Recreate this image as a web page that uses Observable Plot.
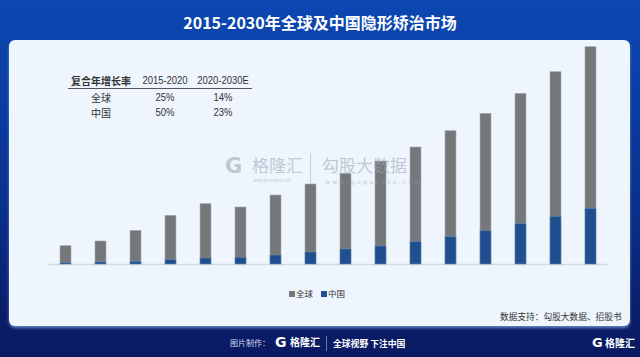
<!DOCTYPE html>
<html>
<head>
<meta charset="utf-8">
<script src="https://cdn.jsdelivr.net/npm/d3@7"></script>
<script src="https://cdn.jsdelivr.net/npm/@observablehq/plot@0.6"></script>
<style>
  html, body { margin: 0; padding: 0; }
  body {
    width: 640px; height: 357px; overflow: hidden; position: relative;
    background: linear-gradient(to bottom, #0c48b2 0%, #0a3ea4 25%, #0a2f8a 60%, #0a1d6a 88%, #0a1a62 100%);
    font-family: "Noto Sans CJK SC", "Noto Sans", sans-serif;
  }
  .abs { position: absolute; white-space: nowrap; }
  #title { left: 0; width: 640px; top: 10px; text-align: center; color: #fff; font-size: 16px; font-weight: 700; line-height: 24px; }
  #panel { left: 9px; top: 40px; width: 621px; height: 286px; background: #eef5fd; border-radius: 6px;
           box-shadow: 0 2px 3px rgba(140,180,230,0.7); }
  #chart { left: 9px; top: 40px; }
  .cell { position: absolute; transform: translate(-50%, -50%); color: #333; white-space: nowrap; }
  .num { font-family: "Liberation Sans", Arial, sans-serif; font-size: 11px; transform: translate(-50%, -50%) scaleX(0.86); }
  .cjk { font-size: 10px; }
  #rule { left: 68px; top: 87.5px; width: 184px; height: 1.4px; background: #555; }
  .wm { color: rgba(150,160,172,0.55); }
</style>
</head>
<body>
<div id="title" class="abs">2015-2030年全球及中国隐形矫治市场</div>
<div id="panel" class="abs"></div>
<div id="chart" class="abs"></div>
<div id="table"></div>
<div id="rule" class="abs"></div>
<div id="legend"></div>
<div id="wm"></div>
<div class="abs" style="left:500px; top:310px; font-size:8.7px; color:#333; line-height:14px;">数据支持：勾股大数据、招股书</div>
<div id="footer"></div>
<script>
const years = ["2015","2016","2017","2018","2019","2020","2021","2022","2023","2024","2025","2026","2027","2028","2029","2030"];
const globalMarket = [18.3, 23, 33.7, 48.7, 60.3, 57, 69, 80, 90.7, 103, 117, 133.3, 150.7, 170.7, 192.3, 217.3];
const chinaMarket = [1.2, 2, 2.7, 4.3, 6, 6.7, 9, 12, 15, 18, 22.3, 27.3, 33.3, 40.3, 47.7, 55.7];
const seriesNames = ["全球", "中国"];
const seriesColors = ["#75787b", "#1f4f8e"];
const cagrHeader = ["复合年增长率", "2015-2020", "2020-2030E"];
const cagrRows = [["全球", "25%", "14%"], ["中国", "50%", "23%"]];

const data = years.map((y, i) => ({year: y, global: globalMarket[i], china: chinaMarket[i]}));

const chart = Plot.plot({
  width: 622, height: 240,
  marginLeft: 38.5, marginRight: 22.5, marginTop: 4, marginBottom: 16,
  style: {background: "transparent"},
  x: {domain: years, paddingInner: 0.686, paddingOuter: 0.343, axis: null},
  y: {domain: [0, 220], axis: null},
  marks: [
    Plot.ruleY([0], {stroke: "#d3dae3", strokeWidth: 1.5}),
    Plot.barY(data, {x: "year", y: "global", fill: seriesColors[0], stroke: "#a6abb0", strokeWidth: 0.6}),
    Plot.barY(data, {x: "year", y: "china", fill: seriesColors[1], stroke: "#6f8fb8", strokeWidth: 0.5})
  ]
});
document.getElementById("chart").appendChild(chart);

// CAGR table
const table = document.getElementById("table");
const colX = [101, 165, 222.5];
const rowY = [80, 96.7, 112.3];
function cell(txt, x, y, cls, extra) {
  const d = document.createElement("div");
  d.className = "cell " + cls;
  d.style.left = x + "px"; d.style.top = y + "px";
  if (extra) Object.assign(d.style, extra);
  d.textContent = txt;
  table.appendChild(d);
}
cagrHeader.forEach((t, j) => cell(t, colX[j], rowY[0], j === 0 ? "cjk" : "num", j === 0 ? {fontWeight: 700} : null));
cagrRows.forEach((row, i) => row.forEach((t, j) => cell(t, colX[j], rowY[i + 1], j === 0 ? "cjk" : "num")));

// legend
const legend = document.getElementById("legend");
const legX = [289, 321];
seriesNames.forEach((name, i) => {
  const d = document.createElement("div");
  d.className = "abs";
  Object.assign(d.style, {left: legX[i] + "px", top: "287px", fontSize: "8.5px", color: "#333", lineHeight: "12px"});
  d.innerHTML = `<span style="display:inline-block;width:6px;height:6px;background:${seriesColors[i]};margin-right:1px;vertical-align:0px"></span>${name}`;
  legend.appendChild(d);
});

// watermark
document.getElementById("wm").innerHTML = `
  <div class="abs wm" style="left:225px;top:155px;font:900 21px 'DejaVu Sans',sans-serif;line-height:22px;">G</div>
  <div class="abs wm" style="left:252px;top:154px;font-size:17px;line-height:21px;">格隆汇</div>
  <div class="abs wm" style="left:253px;top:178px;font-size:4px;line-height:5px;">www.gelonghui.com</div>
  <div class="abs" style="left:310px;top:153px;width:1px;height:32px;background:rgba(150,160,172,0.45);"></div>
  <div class="abs wm" style="left:322px;top:154px;font-size:17px;line-height:21px;">勾股大数据</div>
  <div class="abs wm" style="left:325px;top:178px;font-size:6px;letter-spacing:2.4px;line-height:8px;font-family:'DejaVu Sans',sans-serif;">www.gogudata.com</div>
`;

// footer
document.getElementById("footer").innerHTML = `
  <div class="abs" style="left:230px;top:336px;font-size:8px;color:#d6dcef;line-height:13px;">图片制作：</div>
  <div class="abs" style="left:275px;top:334px;font:900 14px 'DejaVu Sans',sans-serif;color:#fff;line-height:16px;">G</div>
  <div class="abs" style="left:290px;top:335px;font-size:10px;font-weight:700;color:#fff;line-height:13px;">格隆汇</div>
  <div class="abs" style="left:326px;top:336px;width:1px;height:15px;background:#6b7bb0;"></div>
  <div class="abs" style="left:333px;top:337px;font-size:8.8px;font-weight:700;color:#fff;line-height:13px;">全球视野 下注中国</div>
  <div class="abs" style="left:592px;top:335px;font:900 13px 'DejaVu Sans',sans-serif;color:#fff;line-height:16px;">G</div>
  <div class="abs" style="left:605px;top:336px;font-size:10px;font-weight:700;color:#fff;line-height:13px;">格隆汇</div>
`;
</script>
</body>
</html>
